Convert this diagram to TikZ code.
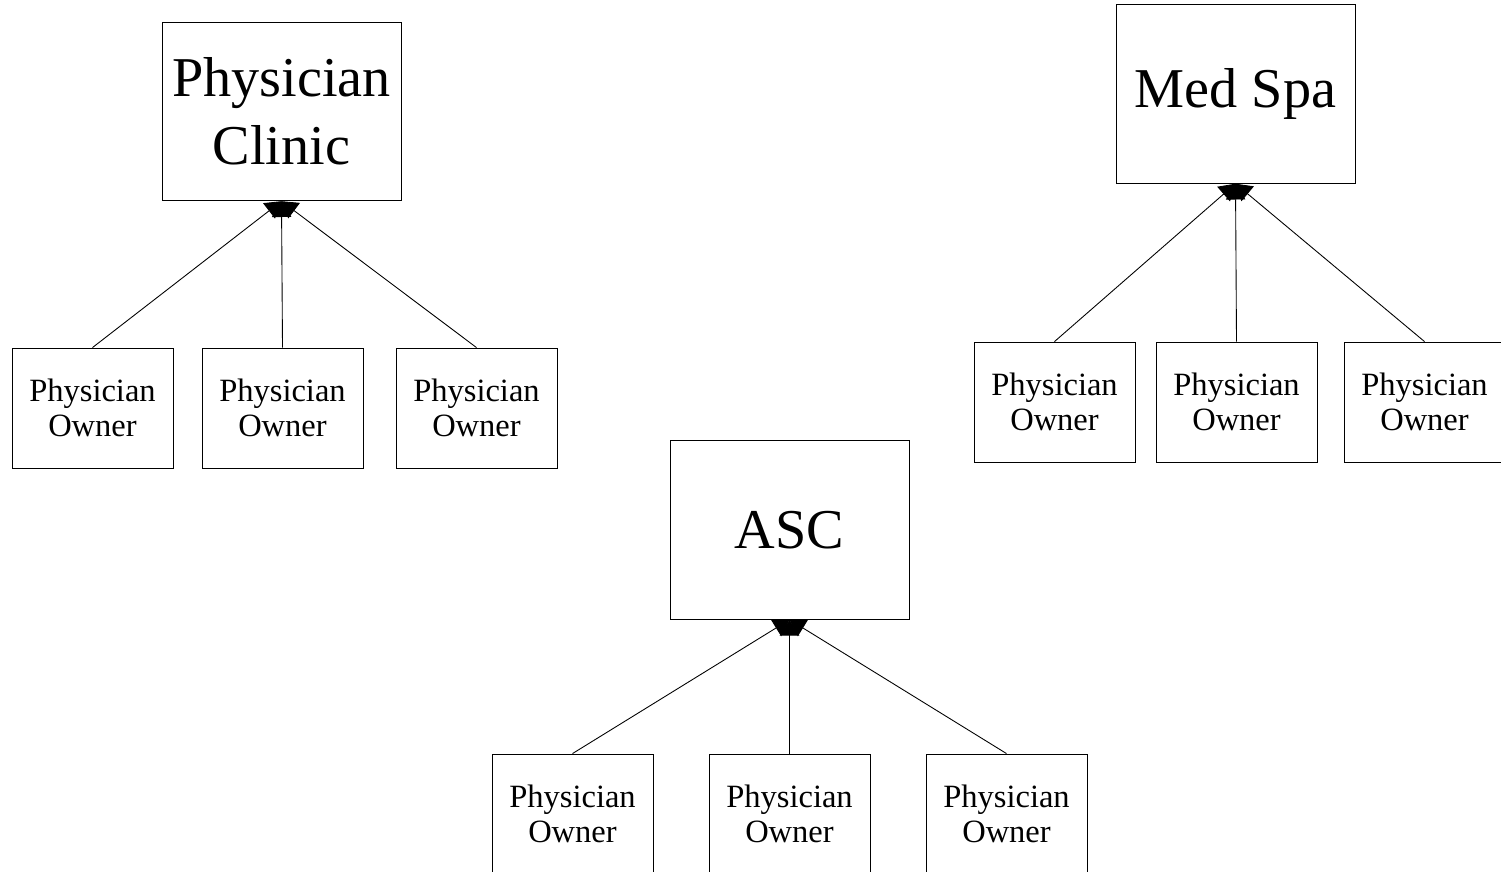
\documentclass[tikz,border=0pt]{standalone}
\usepackage{fontspec}
\setmainfont{Liberation Serif}
\usetikzlibrary{arrows.meta}
\tikzset{
  company/.style = {shape=rectangle, draw, line width=0.5pt, align=center,
                    inner sep=0pt, minimum width=4.78cm, minimum height=3.57cm,
                    font=\fontsize{32}{38.5}\selectfont},
  owner/.style   = {shape=rectangle, draw, line width=0.5pt, align=center,
                    inner sep=0pt, minimum width=3.22cm, minimum height=2.40cm,
                    font=\fontsize{18.5}{20}\selectfont},
  ownedby/.style = {draw, line width=0.5pt, -{Triangle[length=9pt,width=11pt]}}
}
\begin{document}
\begin{tikzpicture}
  \useasboundingbox (0,0) rectangle (30.02,-17.44);
  \clip (0,0) rectangle (30.02,-17.44);

  % physician clinic
  \node [company] (clinic) at (5.63,-2.23) {Physician\\Clinic};
  \node [owner] (clinicA) at (1.85,-8.16) {Physician\\Owner};
  \node [owner] (clinicB) at (5.65,-8.16) {Physician\\Owner};
  \node [owner] (clinicC) at (9.53,-8.16) {Physician\\Owner};
  \draw [ownedby] (clinicA.north) -- (clinic.south);
  \draw [ownedby] (clinicB.north) -- (clinic.south);
  \draw [ownedby] (clinicC.north) -- (clinic.south);

  % med spa
  \node [company] (spa) at (24.71,-1.88) {Med Spa};
  \node [owner] (spaA) at (21.09,-8.04) {Physician\\Owner};
  \node [owner] (spaB) at (24.73,-8.04) {Physician\\Owner};
  \node [owner] (spaC) at (28.49,-8.04) {Physician\\Owner};
  \draw [ownedby] (spaA.north) -- (spa.south);
  \draw [ownedby] (spaB.north) -- (spa.south);
  \draw [ownedby] (spaC.north) -- (spa.south);

  % asc
  \node [company] (asc) at (15.79,-10.60) {ASC};
  \node [owner] (ascA) at (11.45,-16.28) {Physician\\Owner};
  \node [owner] (ascB) at (15.79,-16.28) {Physician\\Owner};
  \node [owner] (ascC) at (20.13,-16.28) {Physician\\Owner};
  \draw [ownedby] (ascA.north) -- (asc.south);
  \draw [ownedby] (ascB.north) -- (asc.south);
  \draw [ownedby] (ascC.north) -- (asc.south);
\end{tikzpicture}
\end{document}
